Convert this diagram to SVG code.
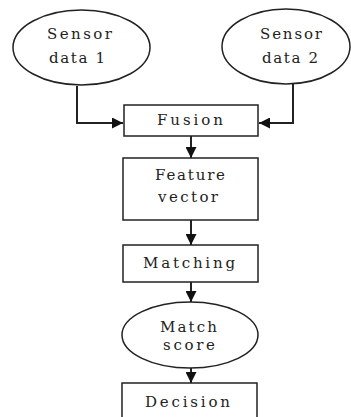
<svg xmlns="http://www.w3.org/2000/svg" width="351" height="417" viewBox="0 0 351 417">
  <style>
    .shape { fill: #ffffff; stroke: #222222; stroke-width: 1.5; }
    .link { fill: none; stroke: #222222; stroke-width: 2; }
    .label { font-family: "DejaVu Serif", "Liberation Serif", serif; font-size: 15px; fill: #222222; text-anchor: start; }
  </style>
  <defs>
    <marker id="arrow" viewBox="0 0 10 10" refX="10" refY="5" markerWidth="11" markerHeight="11" markerUnits="userSpaceOnUse" orient="auto">
      <path d="M0,0 L10,5 L0,10 Z" fill="#111111"/>
    </marker>
  </defs>
  <rect width="351" height="417" fill="#ffffff"/>

  <g id="connectors">
    <path class="link" d="M77,86 V123 H123" marker-end="url(#arrow)"/>
    <path class="link" d="M293,84 V123 H259" marker-end="url(#arrow)"/>
    <path class="link" d="M191,136 V158" marker-end="url(#arrow)"/>
    <path class="link" d="M191,220 V245" marker-end="url(#arrow)"/>
    <path class="link" d="M191,282 V302" marker-end="url(#arrow)"/>
    <path class="link" d="M191,368 V383" marker-end="url(#arrow)"/>
  </g>

  <g id="sensor1">
    <ellipse class="shape" cx="81.5" cy="47.5" rx="68.5" ry="37.5"/>
    <text class="label" x="47" y="39" textLength="65" lengthAdjust="spacing">Sensor</text>
    <text class="label" x="49" y="63" textLength="56" lengthAdjust="spacing">data 1</text>
  </g>

  <g id="sensor2">
    <ellipse class="shape" cx="286" cy="46.5" rx="64" ry="37.5"/>
    <text class="label" x="260" y="39" textLength="62" lengthAdjust="spacing">Sensor</text>
    <text class="label" x="262" y="63" textLength="56" lengthAdjust="spacing">data 2</text>
  </g>

  <g id="fusion">
    <rect class="shape" x="124" y="105" width="134" height="31"/>
    <text class="label" x="157" y="125" textLength="66" lengthAdjust="spacing">Fusion</text>
  </g>

  <g id="feature-vector">
    <rect class="shape" x="123" y="158" width="135" height="62"/>
    <text class="label" x="155" y="180" textLength="70" lengthAdjust="spacing">Feature</text>
    <text class="label" x="158" y="202" textLength="60" lengthAdjust="spacing">vector</text>
  </g>

  <g id="matching">
    <rect class="shape" x="123" y="245" width="135" height="37"/>
    <text class="label" x="143" y="268" textLength="92" lengthAdjust="spacing">Matching</text>
  </g>

  <g id="match-score">
    <ellipse class="shape" cx="190" cy="335" rx="68" ry="33"/>
    <text class="label" x="160" y="332" textLength="57" lengthAdjust="spacing">Match</text>
    <text class="label" x="163" y="350" textLength="52" lengthAdjust="spacing">score</text>
  </g>

  <g id="decision">
    <rect class="shape" x="122" y="383" width="135" height="45"/>
    <text class="label" x="145" y="407" textLength="85" lengthAdjust="spacing">Decision</text>
  </g>
</svg>
